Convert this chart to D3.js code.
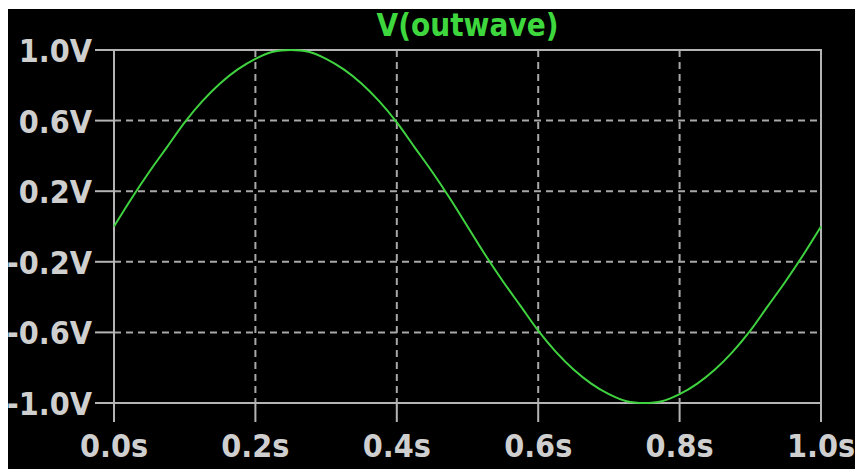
<!DOCTYPE html>
<html>
<head>
<meta charset="utf-8">
<script src="https://cdn.jsdelivr.net/npm/d3@7"></script>
<style>
  html, body { margin: 0; padding: 0; background: #fff; }
  svg { display: block; }
  .lbl { font-family: "DejaVu Sans Condensed", "DejaVu Sans", sans-serif; font-weight: bold; fill: #cfcfcf; font-size: 32px; }
</style>
</head>
<body>
<svg id="chart"></svg>
<script>
"use strict";

var title = "V(outwave)";
var yTicks = [1.0, 0.6, 0.2, -0.2, -0.6, -1.0];
var xTicks = [0.0, 0.2, 0.4, 0.6, 0.8, 1.0];

// time (s) and voltage (V)
var times = [0, 0.025, 0.05, 0.075, 0.1, 0.125, 0.15, 0.175, 0.2, 0.225, 0.25,
  0.275, 0.3, 0.325, 0.35, 0.375, 0.4, 0.425, 0.45, 0.475, 0.5,
  0.525, 0.55, 0.575, 0.6, 0.625, 0.65, 0.675, 0.7, 0.725, 0.75,
  0.775, 0.8, 0.825, 0.85, 0.875, 0.9, 0.925, 0.95, 0.975, 1.0];
var volts = [0, 0.16, 0.31, 0.45, 0.59, 0.71, 0.81, 0.89, 0.95, 0.99, 1.0,
  0.99, 0.95, 0.89, 0.81, 0.71, 0.59, 0.45, 0.31, 0.16, 0,
  -0.16, -0.31, -0.45, -0.59, -0.71, -0.81, -0.89, -0.95, -0.99, -1.0,
  -0.99, -0.95, -0.89, -0.81, -0.71, -0.59, -0.45, -0.31, -0.16, 0];

var W = 855, H = 469;
var plot = { left: 114, top: 50, right: 821, bottom: 403 };

// plain hyphen for negatives, like the scope software
var fmt = d3.formatLocale({ decimal: ".", thousands: ",", grouping: [3], currency: ["", ""], minus: "-" }).format(".1f");

var svg = d3.select("#chart").attr("width", W).attr("height", H);

// black canvas, white strip top and left
svg.append("rect").attr("x", 8).attr("y", 9).attr("width", W - 8).attr("height", H - 9).attr("fill", "#000");

var x = d3.scaleLinear().domain([0, 1]).range([plot.left, plot.right]);
var y = d3.scaleLinear().domain([-1, 1]).range([plot.bottom, plot.top]);

var gridColor = "#a8a8a8";

// dashed grid
svg.append("g").selectAll("line")
  .data(xTicks.filter(function (d) { return d > 0 && d < 1; }))
  .join("line")
  .attr("x1", function (d) { return x(d); }).attr("x2", function (d) { return x(d); })
  .attr("y1", plot.top).attr("y2", plot.bottom)
  .attr("stroke", gridColor).attr("stroke-width", 2).attr("stroke-dasharray", "7,5");

svg.append("g").selectAll("line")
  .data(yTicks.filter(function (d) { return d > -1 && d < 1; }))
  .join("line")
  .attr("x1", plot.left).attr("x2", plot.right)
  .attr("y1", function (d) { return y(d); }).attr("y2", function (d) { return y(d); })
  .attr("stroke", gridColor).attr("stroke-width", 2).attr("stroke-dasharray", "7,5");

// frame
svg.append("rect")
  .attr("x", plot.left).attr("y", plot.top)
  .attr("width", plot.right - plot.left).attr("height", plot.bottom - plot.top)
  .attr("fill", "none").attr("stroke", "#b4b4b4").attr("stroke-width", 2);

// y axis ticks + labels
var yAxis = svg.append("g").selectAll("g").data(yTicks).join("g");
yAxis.append("line")
  .attr("x1", 95).attr("x2", plot.left)
  .attr("y1", function (d) { return y(d); }).attr("y2", function (d) { return y(d); })
  .attr("stroke", "#b4b4b4").attr("stroke-width", 2);
yAxis.append("text")
  .attr("class", "lbl")
  .attr("x", 92)
  .attr("y", function (d) { return y(d) + 12; })
  .attr("text-anchor", "end")
  .text(function (d) { return fmt(d) + "V"; });

// x axis ticks + labels
var xAxis = svg.append("g").selectAll("g").data(xTicks).join("g");
xAxis.append("line")
  .attr("x1", function (d) { return x(d); }).attr("x2", function (d) { return x(d); })
  .attr("y1", plot.bottom).attr("y2", 422)
  .attr("stroke", "#b4b4b4").attr("stroke-width", 2);
xAxis.append("text")
  .attr("class", "lbl")
  .attr("x", function (d) { return x(d); })
  .attr("y", 457)
  .attr("text-anchor", "middle")
  .text(function (d) { return fmt(d) + "s"; });

// trace
var line = d3.line()
  .x(function (d, i) { return x(times[i]); })
  .y(function (d) { return y(d); })
  .curve(d3.curveCatmullRom);

svg.append("path")
  .datum(volts)
  .attr("d", line)
  .attr("fill", "none")
  .attr("stroke", "#3fd33f")
  .attr("stroke-width", 2);

// title
svg.append("text")
  .attr("class", "lbl")
  .attr("x", (plot.left + plot.right) / 2)
  .attr("y", 36)
  .attr("text-anchor", "middle")
  .attr("textLength", 182)
  .attr("lengthAdjust", "spacingAndGlyphs")
  .style("fill", "#3ed83e")
  .text(title);
</script>
</body>
</html>
